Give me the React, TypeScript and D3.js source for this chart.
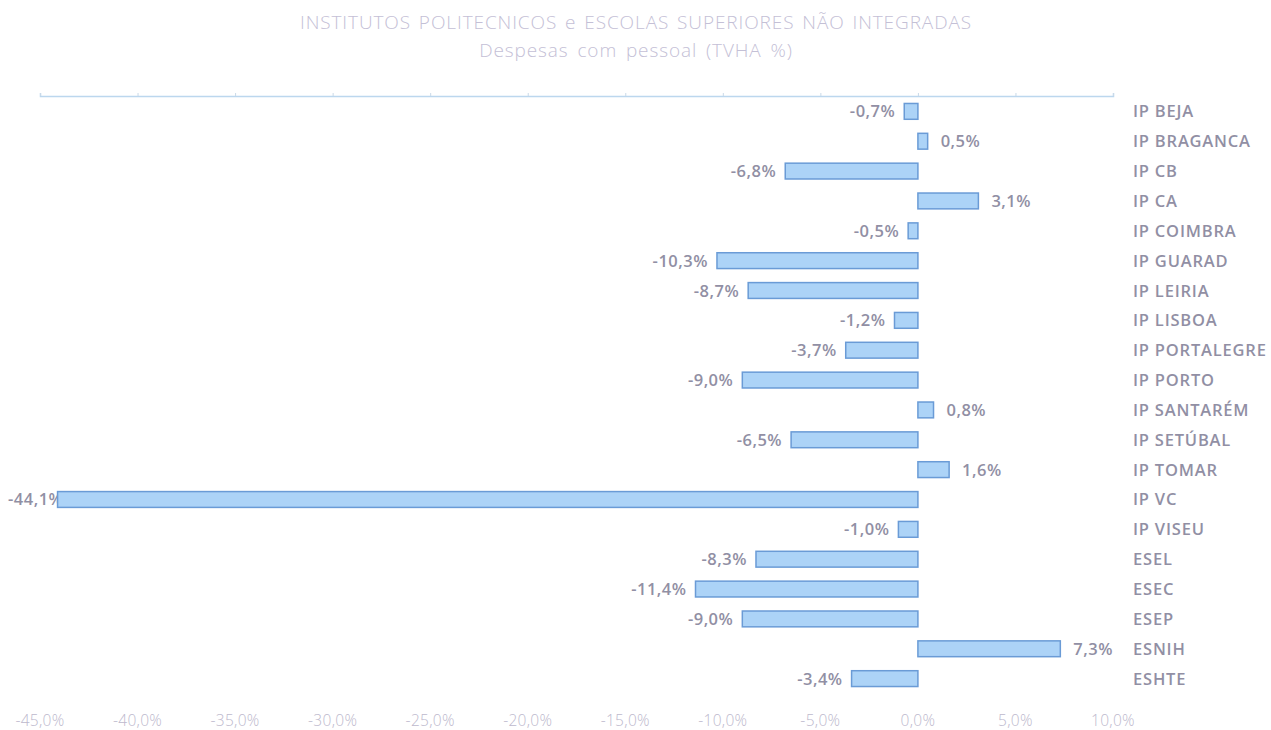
import React, { useEffect, useRef } from 'react';
import * as d3 from 'd3';

const categories = [
  "IP BEJA", "IP BRAGANCA", "IP CB", "IP CA", "IP COIMBRA", "IP GUARAD", "IP LEIRIA",
  "IP LISBOA", "IP PORTALEGRE", "IP PORTO", "IP SANTARÉM", "IP SETÚBAL", "IP TOMAR",
  "IP VC", "IP VISEU", "ESEL", "ESEC", "ESEP", "ESNIH", "ESHTE",
];
const values = [
  -0.7, 0.5, -6.8, 3.1, -0.5, -10.3, -8.7, -1.2, -3.7, -9.0, 0.8, -6.5, 1.6,
  -44.1, -1.0, -8.3, -11.4, -9.0, 7.3, -3.4,
];
const xTicks = [-45, -40, -35, -30, -25, -20, -15, -10, -5, 0, 5, 10];

const title = "INSTITUTOS POLITECNICOS e ESCOLAS SUPERIORES  NÃO INTEGRADAS";
const subtitle = "Despesas com pessoal  (TVHA %)";

function App() {
  const ref = useRef<SVGSVGElement>(null);

  useEffect(() => {
    if (!ref.current) return;
    const svg = d3.select(ref.current);
    svg.selectAll("*").remove();

    const font = "'Open Sans', sans-serif";
    const fmt = (v: number) => d3.format(".1f")(v).replace(".", ",").replace("−", "-") + "%";

    const x = d3.scaleLinear().domain([-45, 10]).range([40, 1113]);
    const y = d3.scaleBand<string>().domain(categories).range([96, 694]).paddingInner(0.47).paddingOuter(0.25);

    // title
    svg.append("text")
      .attr("x", 636).attr("y", 29)
      .attr("text-anchor", "middle")
      .style("font-family", font).style("font-size", "19px").style("font-weight", 300)
      .style("letter-spacing", "0.9px").style("word-spacing", "2px")
      .style("fill", "#c4c0d6")
      .text(title);
    svg.append("text")
      .attr("x", 636).attr("y", 57)
      .attr("text-anchor", "middle")
      .style("font-family", font).style("font-size", "19px").style("font-weight", 300)
      .style("letter-spacing", "0.9px").style("word-spacing", "3px")
      .style("fill", "#c4c0d6")
      .text(subtitle);

    // top axis line
    const axis = svg.append("g")
      .attr("transform", "translate(0,96)")
      .call(d3.axisTop(x).tickValues(xTicks).tickSize(3).tickFormat(() => ""));
    axis.select(".domain").attr("stroke", "#bcd7ee").attr("stroke-width", 1.5);
    axis.selectAll(".tick line").attr("stroke", "#c9d9e8");

    // bottom tick labels
    svg.append("g")
      .selectAll("text")
      .data(xTicks)
      .enter()
      .append("text")
      .attr("x", d => x(d))
      .attr("y", 726)
      .attr("text-anchor", "middle")
      .style("font-family", font).style("font-size", "15.5px").style("font-weight", 300)
      .style("letter-spacing", "0.3px")
      .style("fill", "#bdb9cd")
      .text(d => fmt(d));

    const rows = categories.map((c, i) => ({ c, v: values[i] }));

    // value labels (drawn first so long bars can cover them)
    svg.append("g")
      .selectAll("text")
      .data(rows)
      .enter()
      .append("text")
      .each(function (d) {
        const t = d3.select(this);
        const cy = y(d.c)! + y.bandwidth() / 2 + 6;
        if (d.v >= 0) {
          t.attr("x", x(d.v) + 13).attr("text-anchor", "start");
        } else {
          const end = x(d.v) - 9;
          if (end - 60 < 8) t.attr("x", 8).attr("text-anchor", "start");
          else t.attr("x", end).attr("text-anchor", "end");
        }
        t.attr("y", cy);
      })
      .style("font-family", font).style("font-size", "16.5px").style("font-weight", 600)
      .style("letter-spacing", "0.5px")
      .style("fill", "#918fa4")
      .text(d => fmt(d.v));

    // bars
    svg.append("g")
      .selectAll("rect")
      .data(rows)
      .enter()
      .append("rect")
      .attr("x", d => Math.min(x(0), x(d.v)))
      .attr("y", d => y(d.c)!)
      .attr("width", d => Math.abs(x(d.v) - x(0)))
      .attr("height", y.bandwidth())
      .attr("fill", "#acd3f7")
      .attr("stroke", "#6a9bd6")
      .attr("stroke-width", 1.5);

    // category labels
    svg.append("g")
      .selectAll("text")
      .data(rows)
      .enter()
      .append("text")
      .attr("x", 1133)
      .attr("y", d => y(d.c)! + y.bandwidth() / 2 + 6)
      .style("font-family", font).style("font-size", "16.5px").style("font-weight", 600)
      .style("letter-spacing", "0.8px")
      .style("fill", "#918fa4")
      .text(d => d.c);
  }, []);

  return (
    <svg
      ref={ref}
      width={1271}
      height={730}
      style={{ position: "absolute", left: 0, top: 0, background: "#ffffff" }}
    />
  );
}

export default App;
